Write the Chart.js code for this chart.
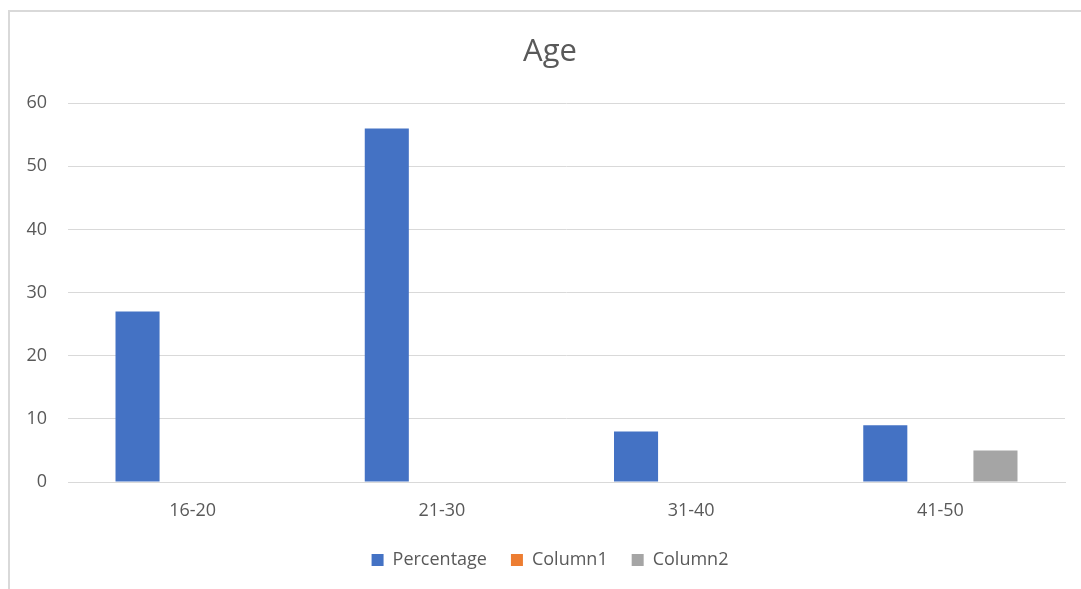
<!DOCTYPE html>
<html>
<head>
<meta charset="utf-8">
<style>
  html, body { margin: 0; padding: 0; background: #fff; overflow: hidden; }
  .chart-box {
    position: absolute; left: 8px; top: 10px;
    width: 1073px; height: 579px;
    border-left: 2px solid #d9d9d9; border-top: 2px solid #d9d9d9;
  }
</style>
</head>
<body>
<div class="chart-box"><canvas id="ageChart"></canvas></div>
<script src="https://cdn.jsdelivr.net/npm/chart.js@4/dist/chart.umd.min.js"></script>
<script>
  const categories = ['16-20', '21-30', '31-40', '41-50'];
  const percentage = [27, 56, 8, 9];
  const column1 = [0, 0, 0, 0];
  const column2 = [0, 0, 0, 5];
  const yTicks = [0, 10, 20, 30, 40, 50, 60];

  const textColor = '#595959';
  const gridColor = '#d9d9d9';
  const fontFamily = '"Open Sans", sans-serif';

  new Chart(document.getElementById('ageChart'), {
    type: 'bar',
    data: {
      labels: categories,
      datasets: [
        { label: 'Percentage', data: percentage, backgroundColor: '#4472C4' },
        { label: 'Column1', data: column1, backgroundColor: '#ED7D31' },
        { label: 'Column2', data: column2, backgroundColor: '#A5A5A5' }
      ]
    },
    options: {
      responsive: true,
      maintainAspectRatio: false,
      animation: false,
      categoryPercentage: 0.663,
      barPercentage: 0.8,
      // negative right padding + empty right axis: keeps the plot edge but centres the title like Excel
      layout: { padding: { left: 0, right: -7, top: 0, bottom: 12 } },
      plugins: {
        title: {
          display: true,
          text: 'Age',
          color: textColor,
          font: { family: fontFamily, size: 31, weight: 'normal' },
          padding: { top: 22, bottom: 32 }
        },
        legend: {
          position: 'bottom',
          labels: {
            color: textColor,
            boxWidth: 12,
            boxHeight: 12,
            padding: 24,
            font: { family: fontFamily, size: 18 }
          }
        },
        tooltip: { enabled: false }
      },
      scales: {
        x: {
          afterFit: function(scale) { scale.height = 45; },
          grid: { display: false, drawTicks: false },
          border: { color: gridColor },
          ticks: { color: textColor, padding: 18, font: { family: fontFamily, size: 18 } }
        },
        y: {
          min: 0,
          max: 60,
          afterBuildTicks: function(scale) {
            scale.ticks = yTicks.map(v => ({ value: v }));
          },
          afterFit: function(scale) { scale.width = 58; },
          grid: { color: gridColor, drawTicks: false },
          border: { display: false },
          ticks: { color: textColor, padding: 21, font: { family: fontFamily, size: 18 } }
        },
        yRight: {
          position: 'right',
          afterFit: function(scale) { scale.width = 25; },
          grid: { display: false, drawTicks: false },
          border: { display: false },
          ticks: { display: false }
        }
      }
    }
  });
</script>
</body>
</html>
